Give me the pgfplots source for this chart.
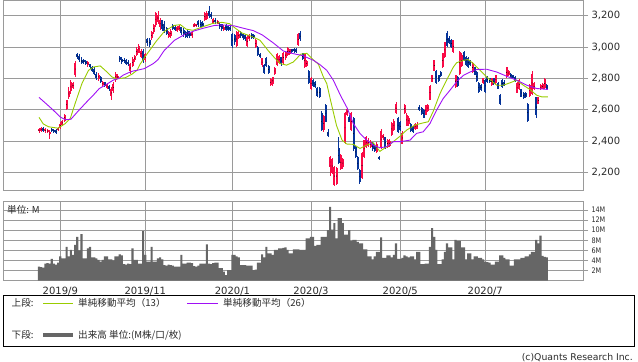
\documentclass[border=0pt]{standalone}
\usepackage{pgfplots}
\pgfplotsset{compat=1.18}
\usepackage{pgfplotstable}
\usepackage{fontspec}
\setmainfont{DejaVu Sans}
\newfontfamily\jp{Noto Sans CJK JP}
\newfontfamily\dvc{DejaVu Sans}[FakeStretch=0.85]
\definecolor{cred}{HTML}{FA0A46}
\definecolor{cblue}{HTML}{06349A}
\definecolor{cgreen}{HTML}{99CC00}
\definecolor{cpurple}{HTML}{A010F5}
\definecolor{cvol}{HTML}{666666}
\definecolor{gridc}{HTML}{9A9A9A}
\definecolor{labc}{HTML}{2A2A2A}
\pgfplotsset{
  wick/.style={only marks, mark=*, mark size=0.05pt, mark options={draw=none,fill=#1},
    /pgfplots/error bars/y dir=both, /pgfplots/error bars/y explicit,
    /pgfplots/error bars/error mark=none,
    /pgfplots/error bars/error bar style={line width=0.9bp, draw=#1, solid}},
  body/.style={only marks, mark=*, mark size=0.05pt, mark options={draw=none,fill=#1},
    /pgfplots/error bars/y dir=both, /pgfplots/error bars/y explicit,
    /pgfplots/error bars/error mark=none,
    /pgfplots/error bars/error bar style={line width=2bp, draw=#1, solid}},
}
\pgfplotstableread{
i d o h l c v
0 1 2462 2485 2455 2478 2.8
1 1 2468 2490 2460 2482 2.7
2 0 2482 2488 2460 2466 2.6
3 1 2462 2482 2455 2476 3.4
4 1 2460 2478 2450 2472 3.5
5 1 2445 2470 2413 2460 3.4
6 0 2478 2482 2460 2466 4.3
7 0 2472 2478 2455 2462 3.4
8 0 2470 2475 2448 2455 3.2
9 1 2470 2490 2465 2485 3.6
10 1 2485 2520 2480 2512 4.8
11 1 2505 2535 2500 2528 4.4
12 1 2530 2575 2525 2568 4.4
13 1 2605 2665 2600 2660 6.7
14 1 2680 2745 2670 2720 4.8
15 1 2720 2790 2700 2780 6.1
16 1 2740 2780 2730 2770 5.1
17 1 2820 2910 2810 2900 7.1
18 0 2955 2965 2925 2935 8.7
19 0 2945 2955 2905 2915 6.0
20 0 2920 2935 2890 2900 9.2
21 0 2915 2925 2895 2905 4.4
22 0 2912 2920 2885 2895 4.4
23 1 2885 2910 2875 2905 6.4
24 0 2890 2895 2860 2870 6.7
25 0 2875 2880 2840 2850 4.6
26 0 2860 2870 2820 2830 4.6
27 0 2830 2840 2790 2800 4.4
28 1 2795 2835 2785 2825 4.1
29 0 2810 2815 2770 2780 3.8
30 1 2760 2785 2745 2775 4.1
31 0 2775 2780 2745 2752 4.8
32 1 2740 2770 2730 2765 4.8
33 0 2755 2760 2720 2730 4.2
34 1 2690 2745 2665 2730 4.2
35 1 2720 2775 2710 2765 4.0
36 1 2790 2840 2780 2830 4.8
37 1 2800 2830 2795 2815 4.8
38 0 2935 2945 2905 2915 5.2
39 0 2925 2935 2895 2905 5.0
40 0 2920 2930 2900 2910 3.3
41 0 2915 2925 2885 2895 3.2
42 0 2905 2915 2880 2890 3.4
43 1 2850 2900 2830 2890 3.3
44 1 2880 2935 2870 2925 6.4
45 1 2915 2950 2905 2945 4.1
46 1 2950 3000 2945 2990 4.1
47 1 2965 3020 2960 3010 3.4
48 1 2940 2985 2930 2975 3.4
49 0 2975 2985 2900 2915 9.8
50 1 2915 2965 2905 2955 5.1
51 0 3050 3060 3010 3025 3.8
52 0 3045 3055 3000 3015 3.8
53 1 3055 3100 3045 3095 6.7
54 1 3095 3150 3085 3140 3.8
55 1 3140 3225 3130 3215 3.8
56 1 3160 3230 3150 3205 4.4
57 1 3125 3185 3110 3175 4.6
58 0 3170 3175 3100 3115 4.2
59 0 3150 3165 3090 3100 3.1
60 0 3120 3130 3075 3085 3.0
61 1 3065 3105 3055 3095 3.2
62 1 3070 3115 3060 3105 3.1
63 0 3140 3150 3110 3118 3.0
64 0 3130 3140 3100 3112 2.8
65 1 3105 3135 3095 3128 2.8
66 1 3110 3140 3100 3132 2.8
67 0 3125 3130 3080 3090 5.1
68 0 3110 3120 3065 3075 3.4
69 0 3095 3105 3055 3065 3.4
70 0 3100 3110 3060 3070 3.6
71 0 3090 3100 3060 3068 3.6
72 1 3070 3100 3060 3095 3.5
73 1 3130 3155 3125 3148 2.9
74 1 3132 3150 3128 3145 2.8
75 0 3165 3172 3130 3140 3.0
76 0 3160 3170 3120 3130 3.4
77 0 3155 3165 3125 3135 3.4
78 1 3170 3225 3165 3215 3.4
79 1 3180 3230 3170 3220 7.2
80 0 3230 3262 3185 3195 3.4
81 0 3210 3225 3180 3190 3.3
82 1 3150 3185 3145 3178 3.5
83 0 3175 3185 3150 3160 3.6
84 1 3150 3175 3145 3168 3.6
85 0 3150 3155 3115 3125 2.5
86 0 3145 3150 3105 3115 2.5
87 1 3110 3140 3105 3130 1.8
88 0 3140 3145 3100 3110 1.1
89 0 3135 3140 3100 3108 2.1
90 0 3130 3135 3100 3110 2.1
91 0 3085 3092 2995 3005 5.1
92 0 3075 3085 3015 3030 5.1
93 1 3005 3105 3000 3095 4.8
94 1 3060 3100 3050 3085 4.6
95 0 3095 3100 3060 3070 3.1
96 0 3085 3092 3045 3055 3.1
97 0 3080 3085 3040 3050 3.1
98 1 3010 3075 3000 3065 3.0
99 1 3050 3085 3040 3080 3.0
100 0 3085 3090 3050 3060 3.0
101 0 3075 3085 3050 3058 2.1
102 1 3000 3050 2995 3045 2.2
103 0 3000 3005 2945 2950 3.6
104 0 2955 2960 2930 2935 3.6
105 1 2884 2930 2875 2928 5.2
106 0 2884 2890 2830 2835 4.6
107 0 2930 2935 2870 2880 6.7
108 0 2880 2885 2830 2838 5.4
109 1 2757 2800 2750 2795 5.4
110 1 2765 2812 2755 2808 5.1
111 1 2830 2870 2825 2865 6.1
112 1 2885 2960 2880 2955 6.1
113 1 2900 2950 2890 2940 6.4
114 0 2935 2940 2880 2890 6.4
115 1 2900 2970 2895 2965 6.5
116 1 2930 2975 2920 2970 6.6
117 1 2950 3000 2945 2995 6.1
118 1 2955 2990 2950 2985 5.4
119 0 2985 2990 2965 2970 5.4
120 0 2990 2995 2965 2975 6.2
121 0 2985 2992 2960 2970 6.2
122 1 3012 3090 3005 3085 6.2
123 0 3090 3100 3040 3050 6.1
124 0 2960 2965 2915 2922 6.1
125 1 2870 2962 2865 2955 6.1
126 1 2880 2920 2870 2910 8.4
127 0 2850 2855 2765 2772 8.4
128 1 2730 2812 2725 2805 8.7
129 0 2790 2795 2745 2752 8.7
130 0 2775 2785 2740 2748 6.9
131 0 2740 2745 2680 2688 7.1
132 0 2740 2748 2675 2685 7.1
133 0 2580 2590 2465 2472 8.7
134 1 2470 2565 2460 2558 8.7
135 0 2630 2640 2520 2525 8.7
136 0 2460 2480 2425 2432 10.0
137 1 2235 2305 2180 2300 14.6
138 1 2200 2292 2190 2285 10.1
139 1 2122 2240 2115 2235 11.4
140 1 2125 2238 2118 2230 8.4
141 0 2355 2430 2255 2262 12.4
142 1 2220 2318 2215 2312 12.4
143 1 2235 2295 2225 2288 11.4
144 1 2390 2585 2385 2580 9.1
145 1 2570 2612 2560 2605 9.1
146 0 2555 2565 2520 2525 10.0
147 1 2470 2585 2465 2578 7.9
148 0 2548 2555 2340 2348 8.1
149 0 2365 2372 2290 2300 8.1
150 0 2300 2305 2215 2220 7.7
151 0 2217 2222 2128 2138 7.4
152 1 2165 2330 2158 2325 7.4
153 1 2300 2410 2292 2405 6.2
154 1 2365 2432 2355 2425 6.2
155 1 2370 2418 2362 2410 4.8
156 1 2365 2405 2355 2398 4.8
157 0 2388 2395 2340 2348 4.2
158 0 2370 2378 2333 2340 4.8
159 1 2330 2395 2325 2385 5.7
160 0 2300 2305 2280 2288 5.7
161 1 2360 2475 2350 2468 8.6
162 1 2420 2445 2410 2438 4.5
163 0 2425 2430 2350 2358 4.5
164 1 2365 2415 2355 2408 5.0
165 1 2372 2412 2362 2402 5.0
166 1 2440 2525 2432 2515 4.6
167 1 2470 2540 2465 2532 5.1
168 1 2580 2648 2575 2638 7.4
169 0 2548 2552 2450 2458 4.3
170 0 2520 2528 2462 2470 4.3
171 1 2385 2462 2380 2455 4.5
172 1 2580 2640 2575 2630 5.0
173 1 2500 2578 2495 2570 4.8
174 1 2510 2560 2500 2550 4.6
175 0 2510 2515 2460 2465 4.8
176 0 2495 2500 2450 2458 4.8
177 1 2475 2515 2470 2510 4.2
178 1 2480 2520 2475 2512 5.7
179 0 2620 2630 2595 2600 5.7
180 0 2610 2615 2570 2575 3.3
181 0 2600 2605 2545 2550 3.3
182 1 2570 2632 2565 2628 3.4
183 1 2590 2640 2585 2632 3.4
184 1 2665 2760 2660 2755 6.7
185 1 2780 2825 2775 2820 10.4
186 1 2850 2920 2845 2915 8.7
187 0 2850 2855 2765 2770 6.1
188 0 2820 2825 2780 2785 3.3
189 0 2840 2845 2810 2815 3.3
190 1 2870 2965 2865 2960 4.2
191 1 2935 3035 2930 3030 5.7
192 0 3090 3100 3000 3010 7.4
193 0 3060 3070 3020 3025 6.6
194 0 3045 3050 2995 3000 6.6
195 1 2967 3048 2960 3045 4.2
196 1 2747 2825 2740 2820 8.1
197 0 2810 2815 2747 2752 7.9
198 1 2830 2975 2825 2970 7.9
199 1 2880 2960 2870 2950 6.6
200 0 2970 2975 2910 2915 6.6
201 0 2940 2945 2880 2885 4.2
202 0 2930 2935 2865 2870 5.4
203 0 2910 2915 2880 2885 5.4
204 1 2840 2905 2835 2900 4.2
205 0 2870 2875 2820 2825 4.8
206 0 2840 2845 2780 2785 4.8
207 0 2770 2775 2710 2715 4.5
208 0 2760 2765 2720 2725 4.5
209 1 2770 2805 2765 2800 4.2
210 0 2790 2795 2710 2715 3.8
211 0 2810 2815 2770 2775 3.7
212 0 2800 2805 2770 2775 3.6
213 1 2760 2805 2755 2800 3.2
214 0 2800 2805 2760 2765 3.2
215 1 2770 2825 2765 2820 3.8
216 0 2770 2775 2730 2735 3.8
217 0 2693 2700 2630 2635 5.0
218 0 2790 2795 2740 2745 5.0
219 0 2780 2790 2750 2755 4.5
220 1 2810 2875 2805 2870 4.2
221 1 2820 2855 2815 2850 4.2
222 0 2830 2835 2800 2805 3.0
223 0 2820 2825 2795 2800 3.0
224 0 2810 2815 2780 2785 4.2
225 1 2710 2775 2705 2770 4.2
226 1 2730 2795 2725 2790 4.2
227 0 2730 2735 2680 2685 4.5
228 0 2710 2715 2670 2675 4.5
229 0 2710 2712 2675 2680 4.8
230 0 2640 2645 2520 2530 4.8
231 1 2690 2765 2685 2760 5.2
232 1 2700 2850 2695 2830 5.7
233 1 2730 2775 2725 2770 5.7
234 0 2680 2685 2545 2565 8.1
235 1 2640 2685 2635 2680 7.4
236 1 2730 2765 2725 2760 8.9
237 1 2735 2770 2730 2765 4.9
238 1 2740 2800 2735 2795 4.7
239 0 2760 2765 2725 2730 4.6
}\stock
\pgfplotstableread{
i m
0 2552
2 2510
4.5 2492
9 2483
12.4 2513
14.7 2545
17 2641
20.2 2768
23.3 2852
25.7 2873
28.8 2880
32 2841
34.3 2810
36.7 2797
40.6 2805
43.7 2827
46.1 2852
47.5 2890
50.4 2948
55.2 3038
59 3100
63.5 3138
66.5 3143
69.3 3114
72.5 3107
77.2 3130
81.8 3151
86 3158
89.7 3149
92.7 3117
95.5 3090
100.8 3064
104 3043
108 2975
110.5 2937
113.4 2895
116.5 2885
119.7 2905
123.2 2955
126 2960
129 2920
131.5 2890
133.8 2810
135.4 2768
137.2 2660
140 2500
142.6 2407
144.8 2382
147.9 2380
151 2354
154.2 2375
157.3 2390
160.4 2335
163.6 2365
166.7 2397
169.9 2432
173 2471
176.9 2503
180.8 2517
183.2 2524
185.5 2590
188.7 2704
191.8 2789
195 2873
196.5 2900
199.7 2916
202 2920
204.4 2895
207.5 2852
210.6 2810
215.4 2757
218.5 2757
221.6 2772
224.8 2789
227.9 2757
231 2730
234.2 2693
236.5 2683
239.5 2683
}\maA
\pgfplotstableread{
i m
0 2679
3.6 2636
6.7 2598
9.9 2555
12.4 2537
15 2540
18.6 2595
22.4 2650
25.5 2693
28.3 2735
32.3 2767
35 2790
37.5 2800
39.7 2822
42.2 2837
44.4 2848
46.1 2852
49.6 2863
53.8 2895
56 2920
59 2980
63.7 3043
68.5 3080
73.2 3104
77.8 3122
82.6 3138
87.3 3141
92 3135
96.2 3120
100.8 3105
105 3078
110.2 3027
115 2975
119.7 2958
124 2946
129.1 2916
132.2 2888
135.4 2852
138.5 2789
142 2688
145 2612
147.9 2513
151 2450
154.2 2407
157.3 2375
160.4 2358
163.6 2365
166.7 2397
169.9 2397
174.6 2407
177.7 2450
180.8 2460
184 2513
187.1 2598
190.2 2672
193.4 2725
196.5 2778
199.7 2820
202.8 2841
206 2857
210.6 2859
215.4 2841
220.1 2814
224.8 2789
229.5 2757
234.2 2736
239.5 2730
}\maB
\begin{document}
\begin{tikzpicture}
\useasboundingbox (0,0) rectangle (638bp,362bp);
\begin{axis}[
  at={(3bp,172bp)}, anchor=south west,
  scale only axis, width=580bp, height=189.5bp,
  xmin=-16.96, xmax=256, ymin=2089, ymax=3297,
  axis line style={draw=gridc, line width=0.8bp},
  xtick={10,50,91,128,170,210}, xticklabels={},
  xtick style={draw=none},
  ytick={2200,2400,2600,2800,3000,3200},
  xmajorgrids, ymajorgrids,
  grid style={draw=gridc, line width=0.8bp},
  ytick pos=right, yticklabel pos=right, tick align=outside,
  major tick length=5bp,
  ytick style={draw=gridc, line width=0.8bp},
  yticklabel style={font=\fontsize{10bp}{12bp}\selectfont, text=labc},
  /pgf/number format/1000 sep={,},
  /pgf/number format/assume math mode=true,
]
\addplot[restrict expr to domain={\thisrow{d}}{0.5:1.5}, wick=cred]
  table[x=i, y expr={(\thisrow{h}+\thisrow{l})/2}, y error expr={(\thisrow{h}-\thisrow{l})/2}]{\stock};
\addplot[restrict expr to domain={\thisrow{d}}{0.5:1.5}, body=cred]
  table[x=i, y expr={(\thisrow{o}+\thisrow{c})/2}, y error expr={max(abs(\thisrow{c}-\thisrow{o})/2,3)}]{\stock};
\addplot[restrict expr to domain={\thisrow{d}}{-0.5:0.5}, wick=cblue]
  table[x=i, y expr={(\thisrow{h}+\thisrow{l})/2}, y error expr={(\thisrow{h}-\thisrow{l})/2}]{\stock};
\addplot[restrict expr to domain={\thisrow{d}}{-0.5:0.5}, body=cblue]
  table[x=i, y expr={(\thisrow{o}+\thisrow{c})/2}, y error expr={max(abs(\thisrow{c}-\thisrow{o})/2,3)}]{\stock};
\addplot[cgreen, line width=0.9bp, mark=none] table[x=i, y=m]{\maA};
\addplot[cpurple, line width=0.9bp, mark=none] table[x=i, y=m]{\maB};
\end{axis}
\begin{axis}[
  at={(3bp,81.3bp)}, anchor=south west,
  scale only axis, width=580bp, height=79bp,
  xmin=-16.96, xmax=256, ymin=0, ymax=15.64,
  axis line style={draw=gridc, line width=0.8bp},
  xtick={10,50,91,128,170,210},
  xticklabels={2019/9,2019/11,2020/1,2020/3,2020/5,2020/7},
  xtick style={draw=none},
  xticklabel style={font=\fontsize{10bp}{12bp}\selectfont, text=labc, yshift=2.5bp},
  ytick={2,4,6,8,10,12,14},
  yticklabel={\pgfmathprintnumber{\tick}M},
  xmajorgrids, ymajorgrids,
  grid style={draw=gridc, line width=0.8bp},
  ytick pos=right, yticklabel pos=right, tick align=outside,
  major tick length=5bp,
  ytick style={draw=gridc, line width=0.8bp},
  yticklabel style={font=\dvc\fontsize{7.6bp}{8bp}\selectfont, text=labc},
  /pgf/number format/assume math mode=true,
]
\addplot[ybar, bar width=2.1bp, fill=cvol, draw=none] table[x=i, y=v]{\stock};
\end{axis}
\node[anchor=west, inner sep=0pt, text=labc, font=\jp\fontsize{9.6bp}{11bp}\selectfont] at (7bp,152bp) {単位: M};
\draw[black, line width=0.9bp] (3.3bp,15.3bp) rectangle (634.7bp,67bp);
\node[anchor=west, inner sep=0pt, text=labc, font=\jp\fontsize{9.6bp}{11bp}\selectfont] at (11.5bp,58.7bp) {上段:};
\draw[cgreen, line width=1.1bp] (43bp,58.7bp) -- (73bp,58.7bp);
\node[anchor=west, inner sep=0pt, text=labc, font=\jp\fontsize{9.6bp}{11bp}\selectfont] at (78bp,58.7bp) {単純移動平均（13）};
\draw[cpurple, line width=1.1bp] (187bp,58.7bp) -- (218bp,58.7bp);
\node[anchor=west, inner sep=0pt, text=labc, font=\jp\fontsize{9.6bp}{11bp}\selectfont] at (223bp,58.7bp) {単純移動平均（26）};
\node[anchor=west, inner sep=0pt, text=labc, font=\jp\fontsize{9.6bp}{11bp}\selectfont] at (11.5bp,27bp) {下段:};
\draw[cvol, line width=3.4bp] (43bp,27bp) -- (73bp,27bp);
\node[anchor=west, inner sep=0pt, text=labc, font=\jp\fontsize{9.6bp}{11bp}\selectfont] at (78bp,27bp) {出来高 単位:(M株/口/枚)};
\node[anchor=east, inner sep=0pt, text=labc, font=\fontsize{9.3bp}{11bp}\selectfont] at (633bp,4.3bp) {(c)Quants Research Inc.};
\end{tikzpicture}
\end{document}
